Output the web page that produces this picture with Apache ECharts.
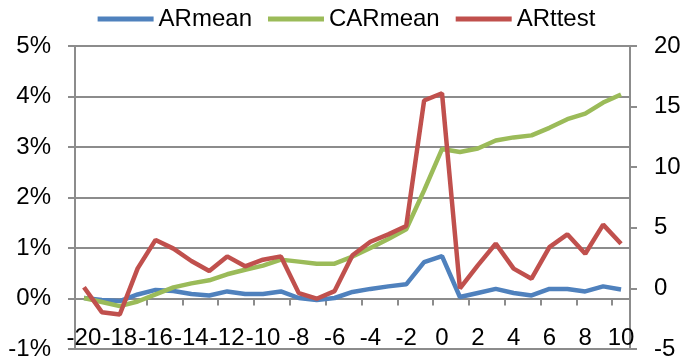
<!DOCTYPE html>
<html>
<head>
<meta charset="utf-8">
<script src="https://cdn.jsdelivr.net/npm/echarts@6/dist/echarts.min.js"></script>
<style>html,body{margin:0;padding:0;background:#fff}#c{width:693px;height:363px}</style>
</head>
<body>
<div id="c"></div>
<script>
const categories = ['-20','-19','-18','-17','-16','-15','-14','-13','-12','-11','-10','-9','-8','-7','-6','-5','-4','-3','-2','-1','0','1','2','3','4','5','6','7','8','9','10'];
const ARmean = [0.01,-0.03,-0.05,0.08,0.17,0.15,0.09,0.06,0.14,0.09,0.09,0.14,0.01,-0.03,0.01,0.13,0.19,0.24,0.28,0.72,0.84,0.03,0.11,0.19,0.11,0.06,0.19,0.19,0.14,0.24,0.18];
const CARmean = [0.01,-0.07,-0.15,-0.06,0.08,0.22,0.30,0.36,0.48,0.57,0.65,0.77,0.73,0.69,0.69,0.83,1.00,1.18,1.37,2.14,2.96,2.90,2.97,3.13,3.19,3.23,3.38,3.55,3.66,3.88,4.04];
const ARttest = [0.1,-1.96,-2.15,1.65,4.0,3.28,2.26,1.43,2.64,1.82,2.37,2.64,-0.39,-0.85,-0.22,2.73,3.85,4.46,5.15,15.5,16.1,0.0,1.9,3.69,1.63,0.8,3.41,4.46,2.86,5.26,3.69];

const FONT = '"Liberation Sans", Arial, sans-serif';
const grey = '#8c8c8c';
const chart = echarts.init(document.getElementById('c'));
chart.setOption({
  animation: false,
  textStyle: { fontFamily: FONT },
  legend: {
    top: 2, left: 'center',
    itemWidth: 56, itemHeight: 5, itemGap: 16,
    icon: 'rect',
    textStyle: { fontSize: 24, color: '#000', fontFamily: FONT },
    data: ['ARmean','CARmean','ARttest']
  },
  grid: { left: 75, right: 63, top: 46, bottom: 14, containLabel: false, outerBoundsMode: 'none' },
  xAxis: [
    {
      type: 'category', data: categories, boundaryGap: true,
      axisLine: { onZero: true, onZeroAxisIndex: 0, lineStyle: { color: grey, width: 2 } },
      axisTick: { show: true, length: 7, lineStyle: { color: grey, width: 2 } },
      axisLabel: { show: false },
      splitLine: { show: false }
    },
    {
      type: 'category', data: categories, boundaryGap: true, position: 'bottom',
      axisLine: { show: false, onZero: false },
      axisTick: { show: false },
      axisLabel: { interval: 1, margin: -11, fontSize: 24, color: '#000', fontFamily: FONT, verticalAlign: 'middle' },
      splitLine: { show: false }
    }
  ],
  yAxis: [
    {
      type: 'value', min: -1, max: 5, interval: 1, position: 'left',
      axisLine: { show: true, lineStyle: { color: grey, width: 2 } },
      axisTick: { show: true, length: 7, lineStyle: { color: grey, width: 2 } },
      axisLabel: { formatter: '{value}%', margin: 24, fontSize: 24, color: '#000', fontFamily: FONT },
      splitLine: { show: true, lineStyle: { color: grey, width: 2 } }
    },
    {
      type: 'value', min: -5, max: 20, interval: 5, position: 'right',
      axisLine: { show: true, lineStyle: { color: grey, width: 2 } },
      axisTick: { show: true, length: 7, lineStyle: { color: grey, width: 2 } },
      axisLabel: { margin: 24, fontSize: 24, color: '#000', fontFamily: FONT },
      splitLine: { show: false }
    }
  ],
  series: [
    { name: 'ARmean', type: 'line', xAxisIndex: 0, yAxisIndex: 0, data: ARmean, showSymbol: false, symbol: 'none',
      itemStyle: { color: '#4F81BD' }, lineStyle: { color: '#4F81BD', width: 4.5 } },
    { name: 'CARmean', type: 'line', xAxisIndex: 0, yAxisIndex: 0, data: CARmean, showSymbol: false, symbol: 'none',
      itemStyle: { color: '#9BBB59' }, lineStyle: { color: '#9BBB59', width: 4.5 } },
    { name: 'ARttest', type: 'line', xAxisIndex: 0, yAxisIndex: 1, data: ARttest, showSymbol: false, symbol: 'none',
      itemStyle: { color: '#C0504D' }, lineStyle: { color: '#C0504D', width: 4.5 } }
  ]
});
</script>
</body>
</html>
